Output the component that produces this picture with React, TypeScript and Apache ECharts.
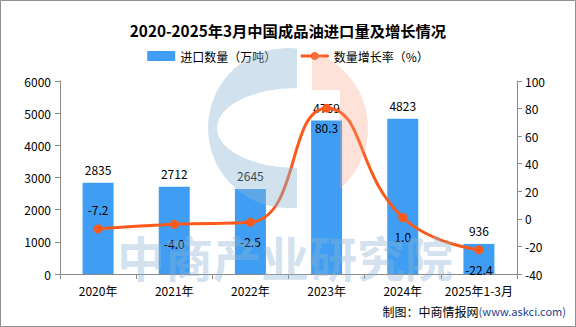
import React, { useEffect, useRef } from "react";
import * as echarts from "echarts";

const categories = ["2020年", "2021年", "2022年", "2023年", "2024年", "2025年1-3月"];
const importVolume = [2835, 2712, 2645, 4769, 4823, 936];
const growthRate = [-7.2, -4.0, -2.5, 80.3, 1.0, -22.4];
const growthLabelPos = ["top", "bottom", "bottom", "bottom", "bottom", "bottom"];
const leftTicks = { min: 0, max: 6000, interval: 1000 };
const rightTicks = { min: -40, max: 100, interval: 20 };

const FONT = "'Noto Sans CJK SC', 'Microsoft YaHei', sans-serif";

echarts.graphic.registerShape(
  "wmBlue",
  echarts.graphic.extendPath(
    "M297,48.5 A80,80 0 1 0 297,207.5 L297,168 A80,40 0 0 1 297,88 Z",
    {}
  )
);
echarts.graphic.registerShape(
  "wmPeach",
  echarts.graphic.extendPath(
    "M312,51.7 A80,80 0 0 1 340,188.8 L340,90 L312,90 Z",
    {}
  )
);

export default function App() {
  const ref = useRef<HTMLDivElement>(null);
  useEffect(() => {
    if (!ref.current) return;
    const chart = echarts.init(ref.current, undefined, { renderer: "svg" });
    const axisLine = { show: true, lineStyle: { color: "#8a8a8a", width: 1 } };
    chart.setOption({
      animation: false,
      backgroundColor: "#fff",
      textStyle: { fontFamily: FONT },
      title: {
        text: "2020-2025年3月中国成品油进口量及增长情况",
        left: "center",
        top: 17,
        textStyle: { fontSize: 15.3, fontWeight: "bold", color: "#000", fontFamily: FONT },
      },
      legend: {
        left: "center",
        top: 45,
        itemGap: 23,
        itemWidth: 28,
        itemHeight: 10,
        textStyle: { fontSize: 12, color: "#000", fontFamily: FONT },
        lineStyle: { width: 3 },
        data: [
          { name: "进口数量（万吨）", icon: "rect" },
          { name: "数量增长率（%）" },
        ],
      },
      grid: { left: 60, right: 59, top: 81, bottom: 53 },
      xAxis: {
        type: "category",
        data: categories,
        axisLine,
        axisTick: { show: true, length: 5, lineStyle: { color: "#8a8a8a" } },
        axisLabel: { color: "#000", fontSize: 12, margin: 10, interval: 0, fontFamily: FONT },
      },
      yAxis: [
        {
          type: "value",
          ...leftTicks,
          axisLine,
          axisTick: { show: true, length: 5, lineStyle: { color: "#8a8a8a" } },
          splitLine: { show: false },
          axisLabel: {
            color: "#000",
            fontSize: 12,
            margin: 9,
            fontFamily: FONT,
            formatter: (v: number) => String(v),
          },
        },
        {
          type: "value",
          ...rightTicks,
          axisLine,
          axisTick: { show: true, length: 5, lineStyle: { color: "#8a8a8a" } },
          splitLine: { show: false },
          axisLabel: { color: "#000", fontSize: 12, margin: 8, fontFamily: FONT },
        },
      ],
      series: [
        {
          name: "进口数量（万吨）",
          type: "bar",
          barWidth: 31,
          data: importVolume,
          itemStyle: { color: "#3f9ef4" },
          label: { show: true, position: "top", distance: 7, color: "#000", fontSize: 12, fontFamily: FONT },
          z: 2,
        },
        {
          name: "数量增长率（%）",
          type: "line",
          yAxisIndex: 1,
          smooth: true,
          symbol: "circle",
          symbolSize: 9,
          lineStyle: { color: "#fb5a1c", width: 3 },
          itemStyle: { color: "#fb5a1c" },
          data: growthRate.map((v, i) => ({
            value: v,
            label: { position: growthLabelPos[i] },
          })),
          label: {
            show: true,
            distance: 9,
            color: "#000",
            fontSize: 12,
            fontFamily: FONT,
            formatter: (p: any) => Number(p.value).toFixed(1),
          },
          z: 3,
        },
      ],
      graphic: [
        {
          type: "wmBlue",
          z: 100,
          silent: true,
          style: { fill: "rgba(140,180,210,0.4)" },
        },
        {
          type: "wmPeach",
          z: 100,
          silent: true,
          style: { fill: "rgba(245,160,130,0.3)" },
        },
        {
          type: "text",
          z: 100,
          silent: true,
          left: 117,
          top: 232,
          style: {
            text: "中商产业研究院",
            fontSize: 48,
            fontWeight: "bold",
            fontFamily: FONT,
            fill: "rgba(140,180,210,0.4)",
          },
        },
        {
          type: "text",
          z: 101,
          right: 10,
          top: 305,
          style: {
            rich: {
              a: { fontSize: 12, fill: "#000", fontFamily: FONT },
              b: { fontSize: 11, fill: "#1f3f8f", fontFamily: FONT },
            },
            text: "{a|制图：中商情报网}{b|(www.askci.com)}",
          },
        },
        {
          type: "rect",
          z: 102,
          silent: true,
          shape: { x: 0.5, y: 0.5, width: 575, height: 326 },
          style: { fill: "none", stroke: "#8f8f8f", lineWidth: 1 },
        },
      ],
    });
    return () => chart.dispose();
  }, []);
  return (
    <div
      ref={ref}
      style={{ position: "absolute", left: 0, top: 0, width: 576, height: 327 }}
    />
  );
}
